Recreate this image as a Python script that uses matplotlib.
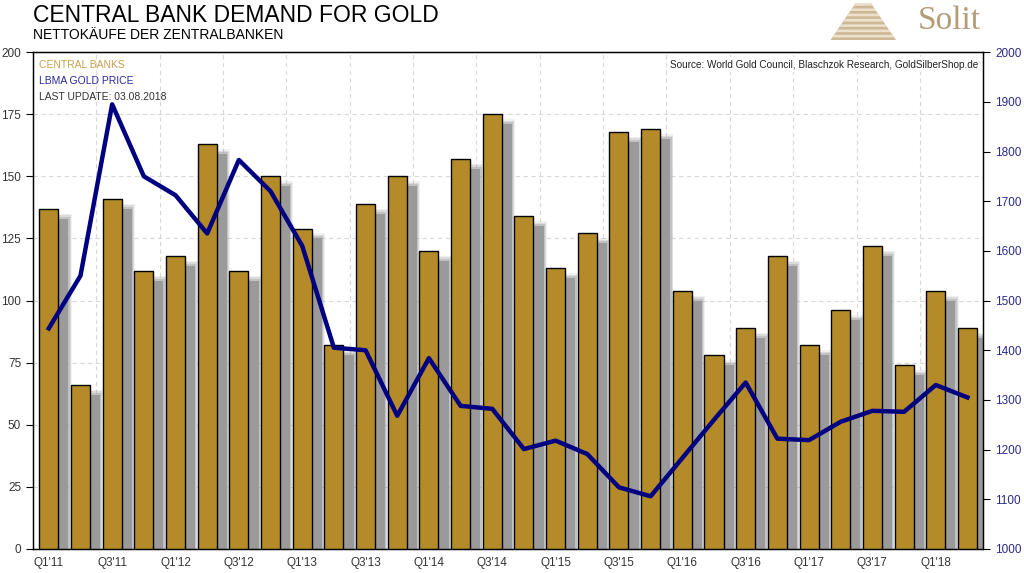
import matplotlib.pyplot as plt
from matplotlib.patches import Polygon

plt.rcParams['font.family'] = ['Liberation Sans', 'DejaVu Sans']

quarters = ["Q1'11", "Q2'11", "Q3'11", "Q4'11", "Q1'12", "Q2'12", "Q3'12", "Q4'12",
            "Q1'13", "Q2'13", "Q3'13", "Q4'13", "Q1'14", "Q2'14", "Q3'14", "Q4'14",
            "Q1'15", "Q2'15", "Q3'15", "Q4'15", "Q1'16", "Q2'16", "Q3'16", "Q4'16",
            "Q1'17", "Q2'17", "Q3'17", "Q4'17", "Q1'18", "Q2'18"]
central_banks = [137, 66, 141, 112, 118, 163, 112, 150, 129, 82, 139, 150, 120, 157, 175, 134,
                 113, 127, 168, 169, 104, 78, 89, 118, 82, 96, 122, 74, 104, 89]
gold_price = [1444, 1550, 1895, 1750, 1712, 1635, 1783, 1720, 1610, 1405, 1400, 1268, 1384,
              1288, 1282, 1201, 1218, 1191, 1124, 1106, 1183, 1260, 1335, 1222, 1219, 1256,
              1278, 1276, 1330, 1305]

bar_color = "#B58B2A"
navy = "#000080"
gold_txt = "#C9A04E"

fig = plt.figure(figsize=(10.24, 5.73), dpi=100)
ax = fig.add_axes([0.0322, 0.042, 0.928, 0.867])
x = list(range(len(quarters)))

# blurred drop shadow behind the bars (offset right and down)
dx, dy = 0.32, 4.0
for grow, a in [(0.10, 0.12), (0.07, 0.2), (0.04, 0.3), (0.0, 1.0)]:
    col = "#9a9a9a" if grow == 0 else "#8a8a8a"
    ax.bar([i + dx for i in x], [v - dy + grow * 20 for v in central_banks],
           width=0.6 + 2 * grow, color=col, alpha=a, linewidth=0, zorder=1)
ax.bar(x, central_banks, width=0.6, color=bar_color, edgecolor="black",
       linewidth=1.0, zorder=3)

ax.set_xlim(-0.5, len(quarters) - 0.5)
ax.set_ylim(0, 200)
ax.set_yticks(range(0, 201, 25))
ax.set_xticks(x[::2])
ax.set_xticklabels(quarters[::2])
ax.tick_params(axis='x', length=0, pad=6, labelsize=8.5, colors="#333333")
ax.tick_params(axis='y', length=5, labelsize=8.5, colors="black", labelcolor="#333333")
ax.set_axisbelow(True)
ax.yaxis.grid(True, linestyle=(0, (4, 3)), color="#d8d8d8", linewidth=0.8, zorder=0)
for b in range(2, len(quarters), 2):
    ax.axvline(b - 0.5, linestyle=(0, (4, 3)), color="#d8d8d8", linewidth=0.8, zorder=0)
for s in ax.spines.values():
    s.set_linewidth(1.0)

ax2 = ax.twinx()
ax2.plot(x, gold_price, color=navy, linewidth=3.2, solid_joinstyle='round', zorder=5)
ax2.set_ylim(1000, 2000)
ax2.set_yticks(range(1000, 2001, 100))
ax2.tick_params(axis='y', length=5, labelsize=8.5, colors="black", labelcolor="#2a2a8a")

# labels inside the plot
ax.text(0.006, 0.985, "CENTRAL BANKS", transform=ax.transAxes, color=gold_txt,
        fontsize=7.5, va='top')
ax.text(0.006, 0.952, "LBMA GOLD PRICE", transform=ax.transAxes, color="#2a2a9a",
        fontsize=7.5, va='top')
ax.text(0.006, 0.919, "LAST UPDATE: 03.08.2018", transform=ax.transAxes, color="#333333",
        fontsize=7.5, va='top')
ax2.text(0.995, 0.985, "Source: World Gold Council, Blaschzok Research, GoldSilberShop.de",
         transform=ax.transAxes, color="#222222", fontsize=7.2, va='top', ha='right',
         bbox=dict(facecolor='white', edgecolor='none', pad=1.5), zorder=10)

fig.text(0.032, 0.993, "CENTRAL BANK DEMAND FOR GOLD", fontsize=16.5, va='top', color="black")
fig.text(0.032, 0.952, "NETTOKÄUFE DER ZENTRALBANKEN", fontsize=10, va='top', color="black")

# logo: stepped pyramid + name
la = fig.add_axes([0.811, 0.93, 0.064, 0.066])
la.set_xlim(0, 10)
la.set_ylim(0, 10)
la.axis('off')
steps = 7
for s in range(steps):
    y0 = s * 1.4
    half = 5 - s * 0.55
    la.add_patch(Polygon([(5 - half, y0), (5 + half, y0), (5 + half - 0.55, y0 + 1.4),
                          (5 - half + 0.55, y0 + 1.4)], closed=True, color="#cdb794", linewidth=0))
    la.add_patch(Polygon([(5 - half + 0.3, y0 + 0.7), (5 + half - 0.3, y0 + 0.7),
                          (5 + half - 0.55, y0 + 1.4), (5 - half + 0.55, y0 + 1.4)],
                         closed=True, color="#ece1cc", linewidth=0))
fig.text(0.958, 0.99, "Solit", fontsize=24, family=['Liberation Serif', 'DejaVu Serif'],
         color="#b39c77", va='top', ha='right')

fig.savefig("out.png", dpi=100)
